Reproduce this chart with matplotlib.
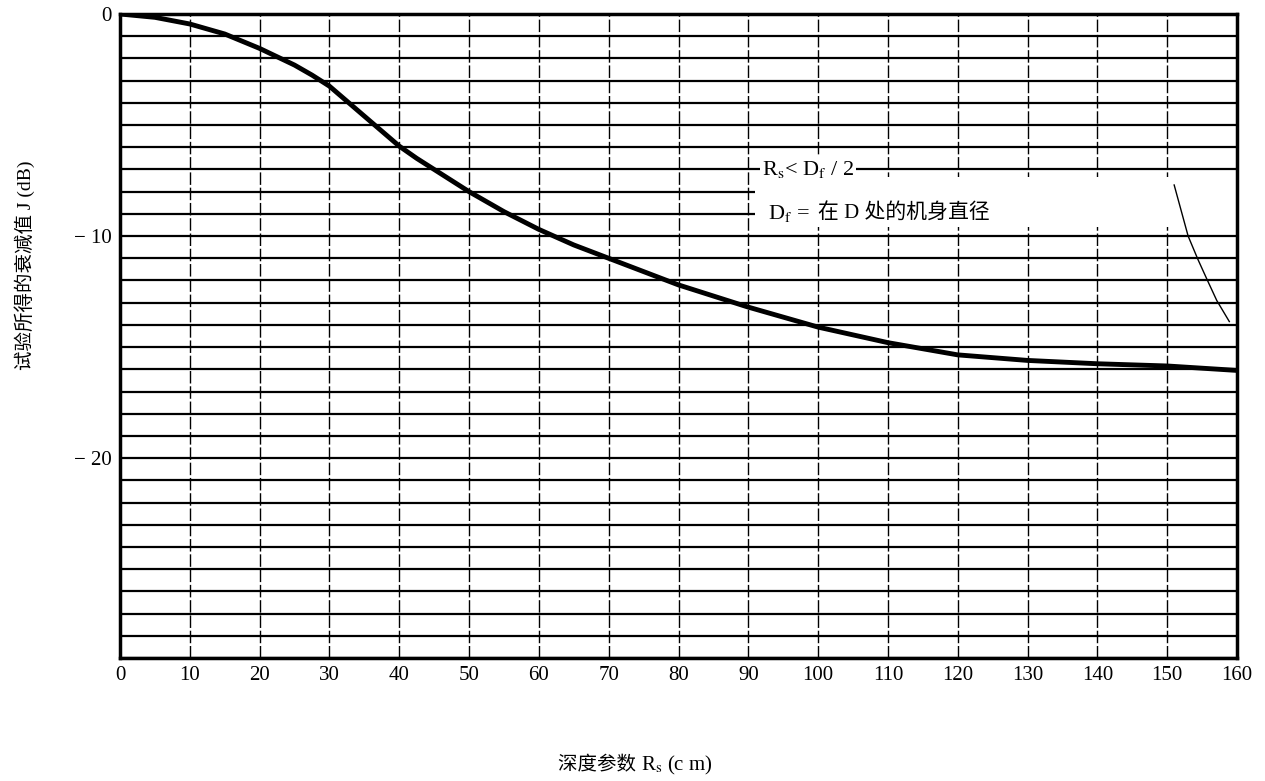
import matplotlib
matplotlib.use("Agg")
import matplotlib.pyplot as plt
from matplotlib.patches import Rectangle

plt.rcParams['font.family'] = ['Liberation Serif', 'Noto Sans CJK SC', 'DejaVu Sans']
plt.rcParams['mathtext.fontset'] = 'stix'

# ---- data ----
depth = [0, 5, 10, 15, 20, 25, 27.5, 30, 35, 40, 42.5, 45, 50, 55, 60, 65, 70,
         75, 80, 85, 90, 95, 100, 110, 120, 130, 140, 150, 155, 160]
atten = [0, -0.15, -0.45, -0.9, -1.55, -2.3, -2.75, -3.25, -4.6, -5.95, -6.5,
         -7.0, -8.0, -8.9, -9.7, -10.4, -11.0, -11.6, -12.2, -12.7, -13.2,
         -13.65, -14.1, -14.8, -15.35, -15.6, -15.75, -15.85, -15.95, -16.05]

thin_x = [151.0, 153.0, 154.4, 155.7, 157.1, 158.9]
thin_y = [-7.7, -10.0, -11.05, -11.95, -12.9, -13.85]

x_ticks = list(range(0, 161, 10))
x_ticklabels = [str(v) for v in x_ticks]
y_ticks = [0, -10, -20]
y_ticklabels = ['0', '− 10', '− 20']
y_grid = list(range(0, -30, -1))
x_grid = list(range(10, 160, 10))

fig = plt.figure(figsize=(12.65, 7.81), dpi=100)
ax = fig.add_axes([120/1265, 1-658/781, (1237-120)/1265, (658-14)/781])
ax.set_xlim(0, 160)
ax.set_ylim(-29, 0)

for yv in y_grid:
    ax.axhline(yv, color='black', lw=1.6, zorder=1)
for xv in x_grid:
    ax.axvline(xv, color='black', lw=1.0, ls=(0, (9, 2)), zorder=1)

# blank band behind the annotation
ax.add_patch(Rectangle((91, -9.6), 69, 2.25, facecolor='white',
                       edgecolor='none', zorder=2))

ax.plot(depth, atten, color='black', lw=3.5, zorder=4,
        solid_capstyle='round', solid_joinstyle='round')
ax.plot(thin_x, thin_y, color='black', lw=1.0, zorder=4)

wb = dict(facecolor='white', edgecolor='none', pad=1.5)
ax.text(92, -7.0, r'R$_\mathrm{s}$< D$_\mathrm{f}$ / 2', fontsize=16, va='center',
        ha='left', zorder=5, bbox=wb)
t2 = ax.text(92.8, -9.0, r'D$_\mathrm{f}$ =', fontsize=16, va='center',
             ha='left', zorder=5, bbox=wb)
ax.annotate('在 D 处的机身直径', xy=(1.0, 0.5), xycoords=t2, xytext=(6, 0),
            textcoords='offset points', fontsize=15, va='center', ha='left',
            zorder=5, family=['Liberation Serif', 'Noto Sans CJK SC'],
            bbox=wb)

ax.set_xticks(x_ticks)
ax.set_xticklabels(x_ticklabels, fontsize=15)
ax.set_yticks(y_ticks)
ax.set_yticklabels(y_ticklabels, fontsize=15)
ax.tick_params(length=0, pad=6)

for s in ax.spines.values():
    s.set_linewidth(2.5)
    s.set_zorder(6)

fig.text(640/1265, 1-765/781, '深度参数 ', fontsize=14,
         ha='right', va='center', family=['Noto Sans CJK SC'])
fig.text(641/1265, 1-765/781, r'R$_\mathrm{s}$ (c m)', fontsize=15,
         ha='left', va='center')
fig.text(25/1265, 1-265/781, '试验所得的衰减值 J (dB)', fontsize=14,
         ha='center', va='center', rotation=90)

fig.savefig('out.png', dpi=100, facecolor='white')
